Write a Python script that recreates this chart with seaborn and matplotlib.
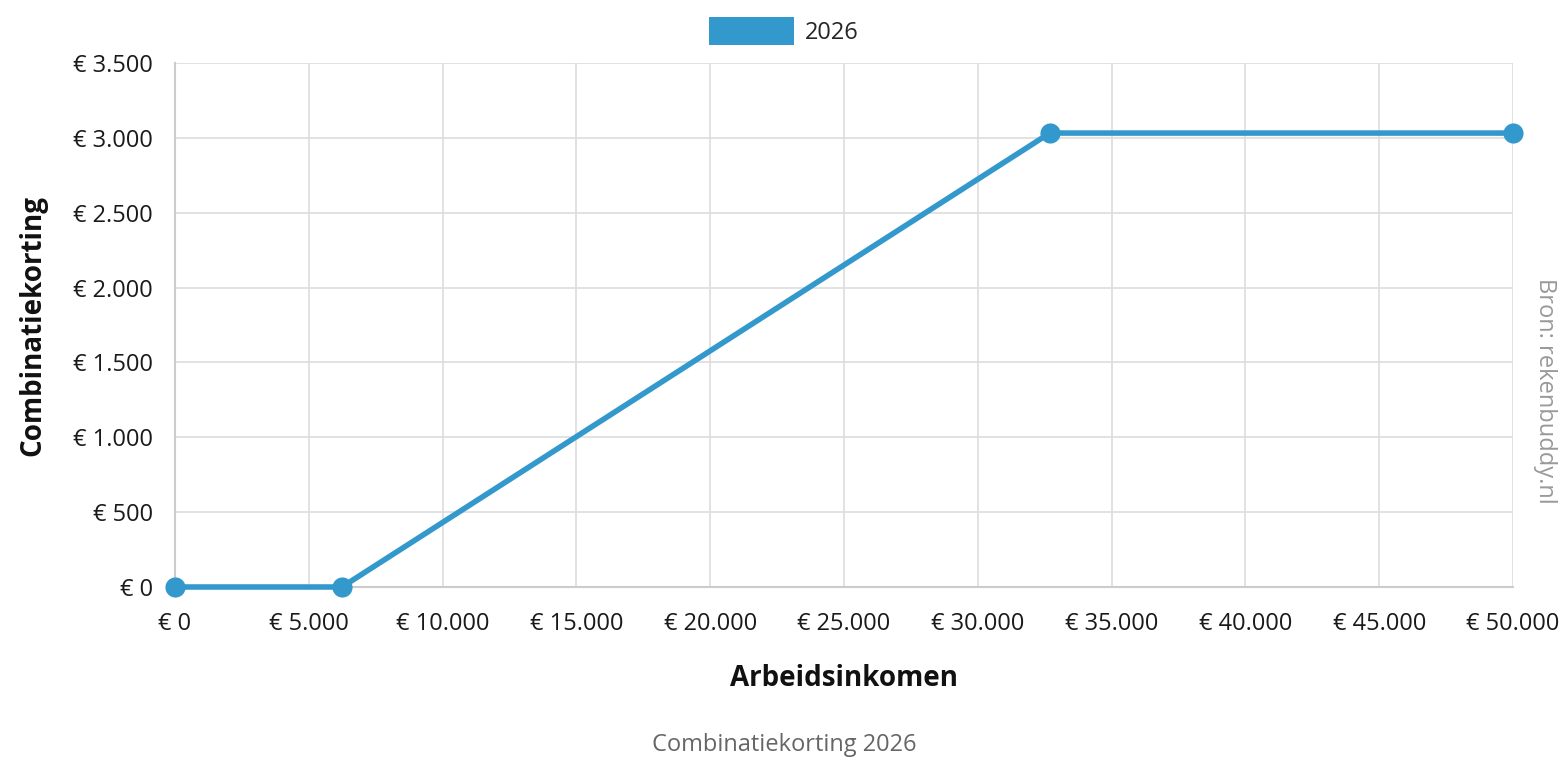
import matplotlib
matplotlib.use('Agg')
import matplotlib.pyplot as plt
import matplotlib.ticker as mticker
from matplotlib.patches import Patch
import pandas as pd
import seaborn as sns

# ── DATA ───────────────────────────────────────────────────
inkomen = [0, 6239, 32690, 50000]
korting = [0, 0, 3032, 3032]
x_ticks = [0, 5000, 10000, 15000, 20000, 25000, 30000, 35000, 40000, 45000, 50000]
y_ticks = [0, 500, 1000, 1500, 2000, 2500, 3000, 3500]
series_label = '2026'

df = pd.DataFrame({'Arbeidsinkomen': inkomen, 'Combinatiekorting': korting})

BLUE = '#3399cc'
GRID = '#dddddd'
FS = 17

sns.set_style('white')
plt.rcParams['font.family'] = ['Open Sans', 'DejaVu Sans']

fig = plt.figure(figsize=(15.68, 7.84), dpi=100)
ax = fig.add_axes([175 / 1568, 1 - 587 / 784, (1513 - 175) / 1568, (587 - 63) / 784])

sns.lineplot(data=df, x='Arbeidsinkomen', y='Combinatiekorting', ax=ax,
             color=BLUE, linewidth=4, marker='o', markersize=14.5,
             markeredgewidth=0, legend=False, zorder=5, clip_on=False)

ax.set_xlim(0, 50000)
ax.set_ylim(0, 3500)
ax.set_xticks(x_ticks)
ax.set_yticks(y_ticks)

def euro(v, _):
    return '€ ' + f'{v:,.0f}'.replace(',', '.')

ax.xaxis.set_major_formatter(mticker.FuncFormatter(euro))
ax.yaxis.set_major_formatter(mticker.FuncFormatter(euro))
ax.tick_params(axis='both', labelsize=FS, colors='#cccccc', labelcolor='#1a1a1a',
               length=8, width=1.2, pad=8)
ax.tick_params(axis='x', pad=10)

ax.grid(True, color=GRID, linewidth=1.2)
ax.set_axisbelow(True)
for side in ['top', 'right']:
    ax.spines[side].set_visible(False)
for side in ['left', 'bottom']:
    ax.spines[side].set_color('#cccccc')
    ax.spines[side].set_linewidth(1.5)

ax.set_xlabel('Arbeidsinkomen', fontsize=20, fontweight='bold', labelpad=20,
              color='#111111')
ax.set_ylabel('Combinatiekorting', fontsize=20, fontweight='bold', labelpad=18,
              color='#111111')

# legend at the top
handle = Patch(facecolor=BLUE, edgecolor='none', label=series_label)
fig.legend(handles=[handle], loc='center', bbox_to_anchor=(0.5, 1 - 31 / 784),
           frameon=False, fontsize=FS, handlelength=3.6, handleheight=1.45,
           handletextpad=0.45)

# footer title and source
fig.text(0.5, 1 - 745 / 784, 'Combinatiekorting 2026', ha='center', va='center',
         fontsize=FS, color='#666666')
fig.text(1545 / 1568, 1 - 391 / 784, 'Bron: rekenbuddy.nl', ha='center', va='center',
         rotation=270, fontsize=FS, color='#999999')

fig.savefig('out.png', dpi=100, facecolor='white')
